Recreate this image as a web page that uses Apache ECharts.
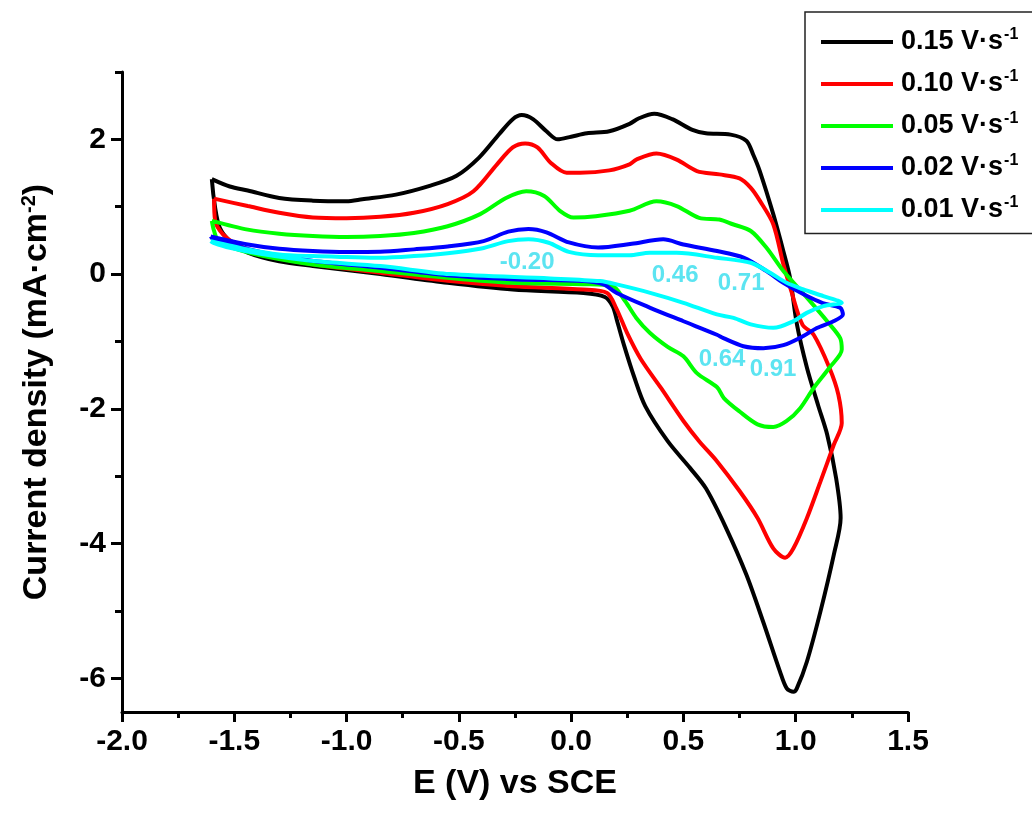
<!DOCTYPE html>
<html>
<head>
<meta charset="utf-8">
<script src="https://cdn.jsdelivr.net/npm/echarts@6/dist/echarts.min.js"></script>
<style>
html,body{margin:0;padding:0;background:#fff;}
#chart{width:1032px;height:818px;}
</style>
</head>
<body>
<div id="chart"></div>
<script>
// Scan-rate legend names (superscript "-1" appended in formatter)
const seriesNames = ['0.15 V·s', '0.10 V·s', '0.05 V·s', '0.02 V·s', '0.01 V·s'];
const seriesColors = ['#000000', '#ff0000', '#00ff00', '#0000ff', '#00ffff'];

// Each CV loop: anodic branch (-1.6 -> 1.2 V) then cathodic branch back to -1.6 V
const cv015 = [
  [-1.60,1.41],[-1.52,1.30],[-1.44,1.24],[-1.30,1.13],[-1.15,1.09],[-1.00,1.08],[-0.93,1.11],[-0.78,1.18],
  [-0.63,1.31],[-0.51,1.46],[-0.41,1.73],[-0.32,2.08],[-0.26,2.30],[-0.22,2.36],[-0.17,2.30],[-0.11,2.12],
  [-0.06,2.00],[0.00,2.04],[0.07,2.09],[0.17,2.12],[0.26,2.23],[0.30,2.31],[0.37,2.38],[0.45,2.30],
  [0.54,2.14],[0.60,2.09],[0.71,2.07],[0.78,1.98],[0.81,1.78],[0.84,1.53],[0.90,0.89],[0.945,0.34],
  [0.975,-0.06],[1.005,-0.74],[1.05,-1.39],[1.10,-1.95],[1.14,-2.38],[1.18,-3.03],[1.20,-3.62],
  [1.17,-4.16],[1.11,-5.01],[1.05,-5.75],[1.005,-6.15],[0.99,-6.20],[0.96,-6.15],[0.93,-5.90],[0.855,-5.16],
  [0.78,-4.46],[0.69,-3.77],[0.60,-3.18],[0.53,-2.88],[0.43,-2.48],[0.33,-1.96],[0.28,-1.52],[0.235,-1.05],
  [0.205,-0.70],[0.185,-0.48],[0.15,-0.34],[0.055,-0.28],[-0.26,-0.23],[-0.55,-0.13],[-0.85,0.00],
  [-1.15,0.12],[-1.30,0.19],[-1.44,0.32],[-1.52,0.49],[-1.565,0.69],[-1.585,0.98],[-1.60,1.41]
];
const cv010 = [
  [-1.59,1.12],[-1.44,1.01],[-1.30,0.91],[-1.15,0.84],[-1.00,0.83],[-0.85,0.85],[-0.70,0.91],[-0.55,1.04],
  [-0.435,1.23],[-0.33,1.63],[-0.26,1.88],[-0.205,1.94],[-0.15,1.88],[-0.09,1.65],[-0.02,1.505],[0.04,1.505],
  [0.17,1.54],[0.26,1.63],[0.29,1.70],[0.38,1.79],[0.47,1.70],[0.56,1.53],[0.66,1.48],[0.75,1.42],
  [0.80,1.28],[0.84,1.09],[0.90,0.74],[0.945,0.145],[0.98,-0.25],[1.03,-0.75],[1.08,-0.90],[1.15,-1.39],
  [1.19,-1.79],[1.205,-2.21],
  [1.17,-2.53],[1.11,-3.08],[1.05,-3.62],[0.99,-4.07],[0.953,-4.21],[0.90,-4.07],[0.83,-3.62],[0.75,-3.22],
  [0.65,-2.78],[0.57,-2.48],[0.50,-2.18],[0.40,-1.69],[0.31,-1.26],[0.25,-0.88],[0.20,-0.50],[0.16,-0.28],
  [0.055,-0.23],[-0.26,-0.18],[-0.55,-0.10],[-0.85,0.02],[-1.15,0.145],[-1.37,0.29],[-1.49,0.44],
  [-1.55,0.59],[-1.585,0.79],[-1.59,1.12]
];
const cv005 = [
  [-1.60,0.79],[-1.44,0.66],[-1.30,0.60],[-1.15,0.565],[-1.00,0.55],[-0.85,0.565],[-0.70,0.61],[-0.55,0.71],
  [-0.405,0.89],[-0.29,1.13],[-0.20,1.23],[-0.12,1.16],[-0.05,0.94],[0.01,0.84],[0.11,0.86],[0.26,0.94],
  [0.38,1.08],[0.47,1.01],[0.57,0.835],[0.66,0.81],[0.72,0.74],[0.80,0.64],[0.87,0.39],[0.945,0.045],
  [1.05,-0.35],[1.14,-0.70],[1.198,-0.95],[1.205,-1.12],
  [1.15,-1.39],[1.08,-1.69],[1.02,-1.99],[0.96,-2.18],[0.90,-2.27],[0.83,-2.23],[0.75,-2.04],[0.68,-1.84],
  [0.65,-1.68],[0.56,-1.47],[0.50,-1.22],[0.43,-1.08],[0.35,-0.87],[0.29,-0.65],[0.24,-0.40],[0.18,-0.17],
  [0.055,-0.15],[-0.26,-0.13],[-0.55,-0.055],[-0.85,0.045],[-1.15,0.144],[-1.37,0.27],[-1.49,0.37],
  [-1.57,0.49],[-1.59,0.64],[-1.60,0.79]
];
const cv002 = [
  [-1.605,0.56],[-1.44,0.44],[-1.30,0.376],[-1.15,0.342],[-1.00,0.327],[-0.85,0.331],[-0.70,0.367],[-0.55,0.41],
  [-0.39,0.49],[-0.28,0.63],[-0.19,0.67],[-0.11,0.62],[-0.01,0.47],[0.12,0.395],[0.27,0.45],[0.41,0.516],
  [0.50,0.44],[0.65,0.342],[0.77,0.242],[0.87,0.045],[0.945,-0.129],[1.035,-0.30],[1.12,-0.43],[1.198,-0.50],
  [1.21,-0.60],
  [1.168,-0.70],[1.094,-0.80],[1.034,-0.92],[0.945,-1.055],[0.856,-1.10],[0.767,-1.07],[0.678,-0.95],
  [0.649,-0.90],[0.50,-0.70],[0.352,-0.50],[0.203,-0.28],[0.144,-0.153],[0.055,-0.104],[-0.242,-0.079],
  [-0.54,-0.02],[-0.85,0.094],[-1.147,0.193],[-1.37,0.316],[-1.52,0.441],[-1.593,0.516],[-1.605,0.56]
];
const cv001 = [
  [-1.605,0.49],[-1.44,0.367],[-1.30,0.293],[-1.15,0.267],[-1.00,0.253],[-0.85,0.242],[-0.70,0.267],[-0.55,0.31],
  [-0.40,0.38],[-0.28,0.49],[-0.19,0.516],[-0.10,0.465],[-0.01,0.33],[0.12,0.28],[0.26,0.28],[0.35,0.316],
  [0.47,0.316],[0.65,0.242],[0.80,0.168],[0.886,0.019],[0.96,-0.129],[1.034,-0.227],[1.123,-0.327],[1.205,-0.426],
  [1.123,-0.475],[1.049,-0.575],[0.99,-0.698],[0.90,-0.798],[0.80,-0.747],[0.723,-0.649],[0.649,-0.599],
  [0.50,-0.426],[0.352,-0.278],[0.203,-0.153],[0.129,-0.104],[-0.094,-0.064],[-0.54,0.0],[-0.85,0.119],
  [-1.147,0.193],[-1.37,0.293],[-1.52,0.391],[-1.593,0.465],[-1.605,0.49]
];
const seriesData = [cv015, cv010, cv005, cv002, cv001];

// Peak potential annotations (0.01 V/s curve)
const peakTexts = ['-0.20', '0.46', '0.71', '0.64', '0.91'];
const peakAnchors = [[-0.196,0.178],[0.463,-0.015],[0.757,-0.134],[0.672,-1.263],[0.899,-1.412]];

// Axis ticks
const xMin = -2.0, xMax = 1.5, xStep = 0.5;
const yMin = -6.5, yMax = 3;
const yMajorTicks = [-6, -4, -2, 0, 2];
const yMinorTicks = [-5, -3, -1, 1, 3];

const FONT = '"Liberation Sans", Arial, sans-serif';
const NARROW = '"Liberation Sans Narrow", "Arial Narrow", "Liberation Sans", sans-serif';
const chart = echarts.init(document.getElementById('chart'), null, {renderer: 'canvas'});

const lineSeries = seriesNames.map((n, i) => ({
  name: n,
  type: 'line',
  data: seriesData[i],
  showSymbol: false,
  symbol: 'none',
  smooth: 0.3,
  lineStyle: {color: seriesColors[i], width: 4},
  itemStyle: {color: seriesColors[i]},
  z: 2 + i
}));

const option = {
  animation: false,
  backgroundColor: '#fff',
  grid: {left: 122, right: 124, top: 72, bottom: 106, containLabel: false, outerBoundsMode: 'none'},
  legend: {
    data: seriesNames,
    left: 805, top: 12,
    orient: 'vertical',
    icon: 'rect',
    itemWidth: 72, itemHeight: 4,
    itemGap: 13.5,
    padding: [15, 40, 10, 16],
    borderColor: '#222', borderWidth: 1.5,
    selectedMode: false,
    formatter: n => '{a|' + n + '}{sup|-1}',
    textStyle: {
      fontFamily: FONT, fontWeight: 'bold', fontSize: 27, color: '#000',
      rich: {
        a: {fontFamily: FONT, fontWeight: 'bold', fontSize: 27, color: '#000', lineHeight: 30, padding: [0,0,0,3]},
        sup: {fontFamily: FONT, fontWeight: 'bold', fontSize: 16, color: '#000', lineHeight: 30, verticalAlign: 'top', padding: [0,0,0,1]}
      }
    }
  },
  xAxis: {
    type: 'value', min: xMin, max: xMax, interval: xStep,
    name: 'E (V) vs SCE', nameLocation: 'middle', nameGap: 54, nameMoveOverlap: false,
    nameTextStyle: {fontFamily: FONT, fontWeight: 'bold', fontSize: 34, color: '#000', lineHeight: 36},
    axisLine: {onZero: false, lineStyle: {color: '#000', width: 3}},
    axisTick: {length: 10, lineStyle: {color: '#000', width: 3}},
    minorTick: {show: true, splitNumber: 2, length: 6, lineStyle: {color: '#000', width: 3}},
    axisLabel: {fontFamily: NARROW, fontWeight: 'bold', fontSize: 30, color: '#000', margin: 15,
      formatter: v => v.toFixed(1)},
    splitLine: {show: false}
  },
  yAxis: [{
    type: 'value', min: yMin, max: yMax, position: 'left',
    name: '{a|Current density (mA·cm}{sup|-2}{a|)}', nameLocation: 'middle', nameGap: 67, nameMoveOverlap: false,
    nameTextStyle: {fontFamily: FONT, fontWeight: 'bold', fontSize: 34, color: '#000',
      rich: {
        a: {fontFamily: FONT, fontWeight: 'bold', fontSize: 34, color: '#000', lineHeight: 36},
        sup: {fontFamily: FONT, fontWeight: 'bold', fontSize: 20, color: '#000', lineHeight: 36, verticalAlign: 'top'}
      }},
    axisLine: {onZero: false, lineStyle: {color: '#000', width: 3}},
    axisTick: {length: 11, customValues: yMajorTicks, lineStyle: {color: '#000', width: 3}},
    axisLabel: {fontFamily: NARROW, fontWeight: 'bold', fontSize: 30, color: '#000', margin: 16,
      customValues: yMajorTicks},
    splitLine: {show: false}
  }, {
    type: 'value', min: yMin, max: yMax, position: 'left', offset: 0,
    axisLine: {show: false, onZero: false},
    axisTick: {length: 7, customValues: yMinorTicks, lineStyle: {color: '#000', width: 3}},
    axisLabel: {show: false},
    splitLine: {show: false}
  }],
  series: lineSeries.concat([{
    type: 'scatter',
    name: 'peaks',
    silent: true,
    symbolSize: 0,
    z: 10,
    data: peakTexts.map((t, i) => ({name: t, value: peakAnchors[i]})),
    label: {show: true, position: 'inside', formatter: '{b}',
      fontFamily: FONT, fontWeight: 'bold', fontSize: 24, color: '#33ddee'}
  }])
};
chart.setOption(option);
</script>
</body>
</html>
